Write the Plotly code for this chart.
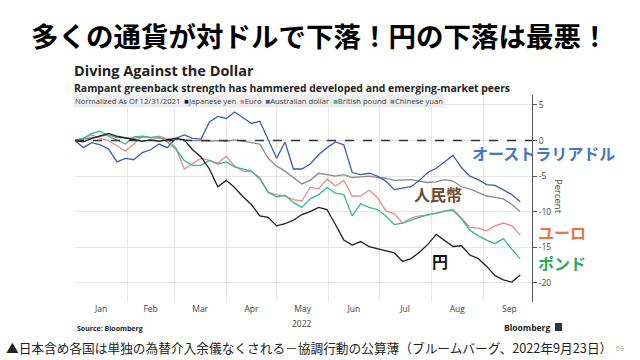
import pandas as pd
import plotly.graph_objects as go

# ---- data (percent change vs USD, normalized as of 12/31/2021), 5-day sampling ----
start_date = "2022-01-01"
n_points = 54
step = "5D"

japanese_yen = [0, -0.2, 0.3, 0.6, 1.0, 0.6, 0.4, 0.2, -0.1, 0.1,
                -0.1, 0.1, 0.3, 0.1, -1.3, -2.3, -4.0, -6.5, -5.6, -6.6,
                -7.9, -9.0, -10.6, -10.8, -12.0, -11.7, -11.2, -10.4, -10.0, -9.4,
                -9.7, -11.8, -14.0, -14.7, -14.2, -14.9, -15.2, -15.5, -15.8, -17.0,
                -16.6, -15.7, -14.6, -13.2, -14.0, -14.9, -14.8, -16.1, -16.6, -17.7,
                -19.0, -19.6, -19.9, -18.9]
euro = [0, 0.3, 0.8, 0.3, 0.0, -0.8, -1.5, -0.5, 0.6, 0.4,
        0.6, 0.2, -1.0, -4.0, -3.3, -2.5, -2.8, -3.2, -2.2, -3.6,
        -4.3, -4.4, -5.2, -7.3, -7.6, -7.8, -8.3, -8.5, -6.6, -6.8,
        -5.4, -6.4, -5.6, -7.8, -7.8, -7.0, -8.0, -9.9, -10.3, -11.6,
        -10.9, -10.6, -10.5, -10.2, -9.9, -9.7, -10.9, -12.2, -12.3, -12.7,
        -12.0, -11.6, -12.0, -13.3]
australian_dollar = [0, -1.0, -0.3, -0.6, -1.2, -3.0, -2.5, -2.7, -1.7, -1.3,
                     -0.5, -1.0, 0.3, 0.8, 0.3, 0.2, 2.6, 3.4, 3.1, 4.0,
                     3.2, 2.4, 2.7, 0.0, -2.5, -0.2, -4.0, -4.0, -3.3, -2.0,
                     -1.0, -0.2, -0.6, -4.5, -4.8, -4.6, -5.0, -5.7, -6.9, -6.7,
                     -6.5, -5.6, -4.5, -3.9, -3.0, -2.1, -3.8, -5.0, -5.5, -6.2,
                     -6.3, -6.9, -7.6, -8.6]
british_pound = [0, 0.3, 1.0, 1.3, 0.6, 0.0, -0.5, 0.5, 0.6, 0.4,
                 0.5, -0.2, -1.2, -2.8, -3.5, -3.5, -2.8, -3.3, -3.0, -3.7,
                 -4.0, -4.3, -5.4, -7.3, -7.9, -7.7, -8.7, -9.4, -8.2, -7.6,
                 -6.6, -7.4, -7.6, -10.6, -8.9, -9.4, -9.7, -10.6, -11.8, -11.6,
                 -11.2, -10.8, -10.4, -10.2, -9.9, -9.8, -11.0, -12.6, -13.4, -14.0,
                 -14.5, -13.8, -15.3, -16.6]
chinese_yuan = [0, 0.2, 0.3, 0.5, 0.8, 0.4, 0.3, 0.3, 0.5, 0.4,
                0.3, 0.2, 0.2, 0.1, 0.0, 0.0, -0.1, 0.0, -0.1, 0.1,
                -0.1, -0.3, -0.5, -2.5, -3.6, -4.3, -5.2, -6.1, -5.6, -4.6,
                -4.8, -5.0, -4.8, -5.2, -5.1, -5.0, -5.2, -5.3, -5.6, -5.5,
                -5.5, -5.7, -5.9, -5.8, -5.5, -5.7, -6.5, -6.8, -7.3, -7.8,
                -8.0, -8.2, -9.0, -10.0]

series_names = ["Japanese yen", "Euro", "Australian dollar", "British pound", "Chinese yuan"]
y_ticks = [5, 0, -5, -10, -15, -20]
y_tick_labels = ["5", "0", "-5", "-10", "-15", "-20"]

dates = pd.date_range(start_date, periods=n_points, freq=step)

# ---- styling ----
W, H = 640, 360
def px(x):
    return x / W
def py(y):
    return 1 - y / H

colors = {
    "Japanese yen": "#1e1e1e",
    "Euro": "#e88c8a",
    "Australian dollar": "#3d5ea8",
    "British pound": "#3db897",
    "Chinese yuan": "#8a8a8a",
}
values = {
    "Japanese yen": japanese_yen,
    "Euro": euro,
    "Australian dollar": australian_dollar,
    "British pound": british_pound,
    "Chinese yuan": chinese_yuan,
}

fig = go.Figure()
for name in ["Chinese yuan", "Australian dollar", "Euro", "British pound", "Japanese yen"]:
    fig.add_trace(go.Scatter(x=dates, y=values[name], mode="lines", name=name,
                             line=dict(color=colors[name], width=1.3),
                             showlegend=False))

fig.add_shape(type="line", xref="x domain", yref="y", x0=0, x1=1, y0=0, y1=0,
              line=dict(color="#333333", width=1.5, dash="dash"))

latin = "Open Sans, Noto Sans, sans-serif"
cjk = "Noto Sans CJK JP, sans-serif"

fig.update_layout(
    width=W, height=H,
    margin=dict(l=0, r=0, t=0, b=0, autoexpand=False),
    paper_bgcolor="white", plot_bgcolor="white",
    xaxis=dict(domain=[px(75), px(532)], range=["2022-01-01", "2022-09-30"], automargin=False,
               dtick="M1", tick0="2022-01-01", ticklabelmode="period", tickformat="%b",
               showgrid=True, gridcolor="#e6e6e6", gridwidth=1,
               showline=False, zeroline=False, ticks="",
               tickfont=dict(family=latin, size=8.5, color="#444444")),
    yaxis=dict(domain=[py(302), py(95)], range=[-22.7, 6.4], side="right", automargin=False,
               tickvals=y_ticks, ticktext=y_tick_labels,
               showgrid=True, gridcolor="#e6e6e6", gridwidth=1, zeroline=False,
               showline=True, linecolor="#555555", linewidth=1,
               ticks="outside", ticklen=4, tickcolor="#555555",
               tickfont=dict(family=latin, size=8.5, color="#444444")),
)

ann = []
def text(x, y, s, size, color="#000000", family=latin, xanchor="left", bold=False, **kw):
    if bold:
        s = "<b>" + s + "</b>"
    ann.append(dict(x=px(x), y=py(y), xref="paper", yref="paper", text=s, showarrow=False,
                    xanchor=xanchor, yanchor="middle",
                    font=dict(size=size, color=color, family=family), **kw))

# headline
text(320, 35, "多くの通貨が対ドルで下落！円の下落は最悪！", 27.5, family=cjk, xanchor="center", bold=True)
# chart titles
text(72, 70.5, "Diving Against the Dollar", 14.5, color="#222222", bold=True)
text(72, 87.5, "Rampant greenback strength has hammered developed and emerging-market peers", 10.4,
     color="#222222", bold=True)
# legend strip
sq = lambda c: f"<span style='color:{c}'>■</span>"
legend_txt = ("Normalized As Of 12/31/2021  " +
              "  ".join(sq(colors[n]) + n for n in series_names))
text(73, 101, legend_txt, 7.7, color="#444444", bgcolor="#eeeeee", borderpad=1)
# axis title
ann.append(dict(x=px(558), y=py(196), xref="paper", yref="paper", text="Percent", showarrow=False,
                xanchor="center", yanchor="middle",
                textangle=90, font=dict(size=9.5, color="#444444", family=latin)))
# year label
ann.append(dict(x="2022-05-16", y=py(323), xref="x", yref="paper", text="2022", showarrow=False,
                xanchor="center", yanchor="middle",
                font=dict(size=8.5, color="#444444", family=latin)))
# source and brand
text(75, 328, "Source: Bloomberg", 7, color="#222222", bold=True)
text(552, 327, "Bloomberg", 8.5, color="#222222", xanchor="right", bold=True)
# series labels (Japanese)
text(470, 153, "オーストラリアドル", 16, color="#4a74c4", family=cjk, bold=True)
text(412, 194, "人民幣", 16, color="#6b4a2e", family=cjk, bold=True)
text(536, 232, "ユーロ", 16, color="#ee7440", family=cjk, bold=True)
text(536, 263, "ポンド", 16, color="#2ea860", family=cjk, bold=True)
text(430, 261, "円", 16, color="#111111", family=cjk, bold=True)
# caption
text(4, 347, "▲日本含め各国は単独の為替介入余儀なくされる－協調行動の公算薄（ブルームバーグ、2022年9月23日）",
     12.7, color="#222222", family=cjk)
text(620, 348, "69", 7, color="#aaaaaa", xanchor="center")

fig.update_layout(annotations=ann)
fig.add_shape(type="rect", xref="paper", yref="paper",
              x0=px(555), x1=px(562), y0=py(331), y1=py(323),
              fillcolor="#333333", line=dict(width=0))

fig.write_html("out.html", config={"displayModeBar": False},
               post_script="document.body.style.margin='0';document.body.style.overflow='hidden';")
